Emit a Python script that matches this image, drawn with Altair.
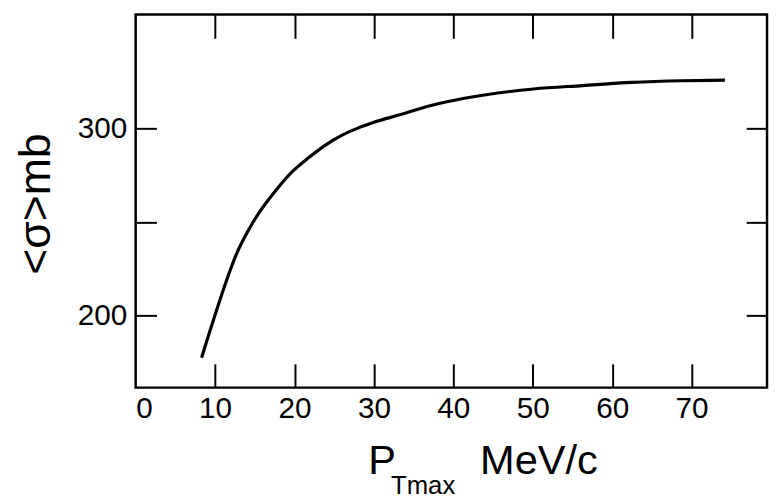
import altair as alt
import pandas as pd

# curve
p_tmax = [8.3, 10.2, 11.45, 12.7, 14.15, 15.4, 16.65, 17.9, 19.75, 21.8, 23.9, 26.0,
          28.05, 30.1, 33.0, 37.2, 41.4, 50.1, 56.3, 62.5, 68.8, 74.2]
sigma = [177.5, 203.0, 218.9, 233.0, 245.3, 254.2, 261.6, 268.3, 277.1, 284.5, 291.2,
         296.5, 300.4, 303.5, 307.1, 312.4, 316.2, 321.2, 323.0, 324.7, 325.6, 325.9]

x_label_vals = [0, 10, 20, 30, 40, 50, 60, 70]
x_tick_vals = [10, 20, 30, 40, 50, 60, 70]
y_label_vals = [200, 300]
y_tick_vals = [200, 250, 300]

W, H = 638, 377
FONT = "Liberation Sans"

df = pd.DataFrame({"p": p_tmax, "s": sigma})

xs = alt.Scale(domain=[0, 79.5], nice=False, zero=False)
ys = alt.Scale(domain=[161.5, 361], nice=False, zero=False)

base = alt.Chart(df)

line = base.mark_line(color="black", strokeWidth=3.2, interpolate="monotone").encode(
    x=alt.X("p:Q", scale=xs, axis=alt.Axis(
        orient="bottom", values=x_label_vals, ticks=False, domain=False, grid=False,
        labelFont=FONT, labelFontSize=30, labelColor="black", labelPadding=6,
        title=None)),
    y=alt.Y("s:Q", scale=ys, axis=alt.Axis(
        orient="left", values=y_label_vals, ticks=False, domain=False, grid=False,
        labelFont=FONT, labelFontSize=30, labelColor="black", labelPadding=9,
        title="<σ>mb", titleFont=FONT, titleFontSize=45, titleFontWeight="normal",
        titleColor="black", titleX=-78, titleY=191, titleAngle=270)),
)

tickA = base.mark_line(strokeOpacity=0).encode(
    x=alt.X("p:Q", scale=xs, axis=alt.Axis(
        orient="top", offset=-H, values=x_tick_vals, ticks=True, tickSize=24,
        tickWidth=2, tickColor="black", labels=False, domain=False, grid=False, title=None)),
    y=alt.Y("s:Q", scale=ys, axis=alt.Axis(
        orient="right", offset=-W, values=y_tick_vals, ticks=True, tickSize=21,
        tickWidth=2, tickColor="black", labels=False, domain=False, grid=False, title=None)),
)

tickB = base.mark_line(strokeOpacity=0).encode(
    x=alt.X("p:Q", scale=xs, axis=alt.Axis(
        orient="bottom", offset=-H, values=x_tick_vals, ticks=True, tickSize=24,
        tickWidth=2, tickColor="black", labels=False, domain=False, grid=False, title=None)),
    y=alt.Y("s:Q", scale=ys, axis=alt.Axis(
        orient="left", offset=-W, values=y_tick_vals, ticks=True, tickSize=21,
        tickWidth=2, tickColor="black", labels=False, domain=False, grid=False, title=None)),
)

t_p = alt.Chart(alt.Data(values=[{"t": "P"}])).mark_text(
    font=FONT, fontSize=42, color="black", align="left", baseline="alphabetic"
).encode(text="t:N", x=alt.value(235), y=alt.value(464))

t_sub = alt.Chart(alt.Data(values=[{"t": "Tmax"}])).mark_text(
    font=FONT, fontSize=26, color="black", align="left", baseline="alphabetic"
).encode(text="t:N", x=alt.value(258), y=alt.value(485))

t_unit = alt.Chart(alt.Data(values=[{"t": "MeV/c"}])).mark_text(
    font=FONT, fontSize=42, color="black", align="left", baseline="alphabetic"
).encode(text="t:N", x=alt.value(348), y=alt.value(464))

chart = alt.layer(line, tickA, tickB, t_p, t_sub, t_unit).resolve_axis(
    x="independent", y="independent"
).properties(
    width=W, height=H,
    autosize=alt.AutoSizeParams(type="none"),
    padding={"left": 129, "top": 4, "right": 3, "bottom": 115},
    background="white",
).configure_view(stroke="black", strokeWidth=2.5)

chart.save("out.html", embed_options={"renderer": "svg", "actions": False})
